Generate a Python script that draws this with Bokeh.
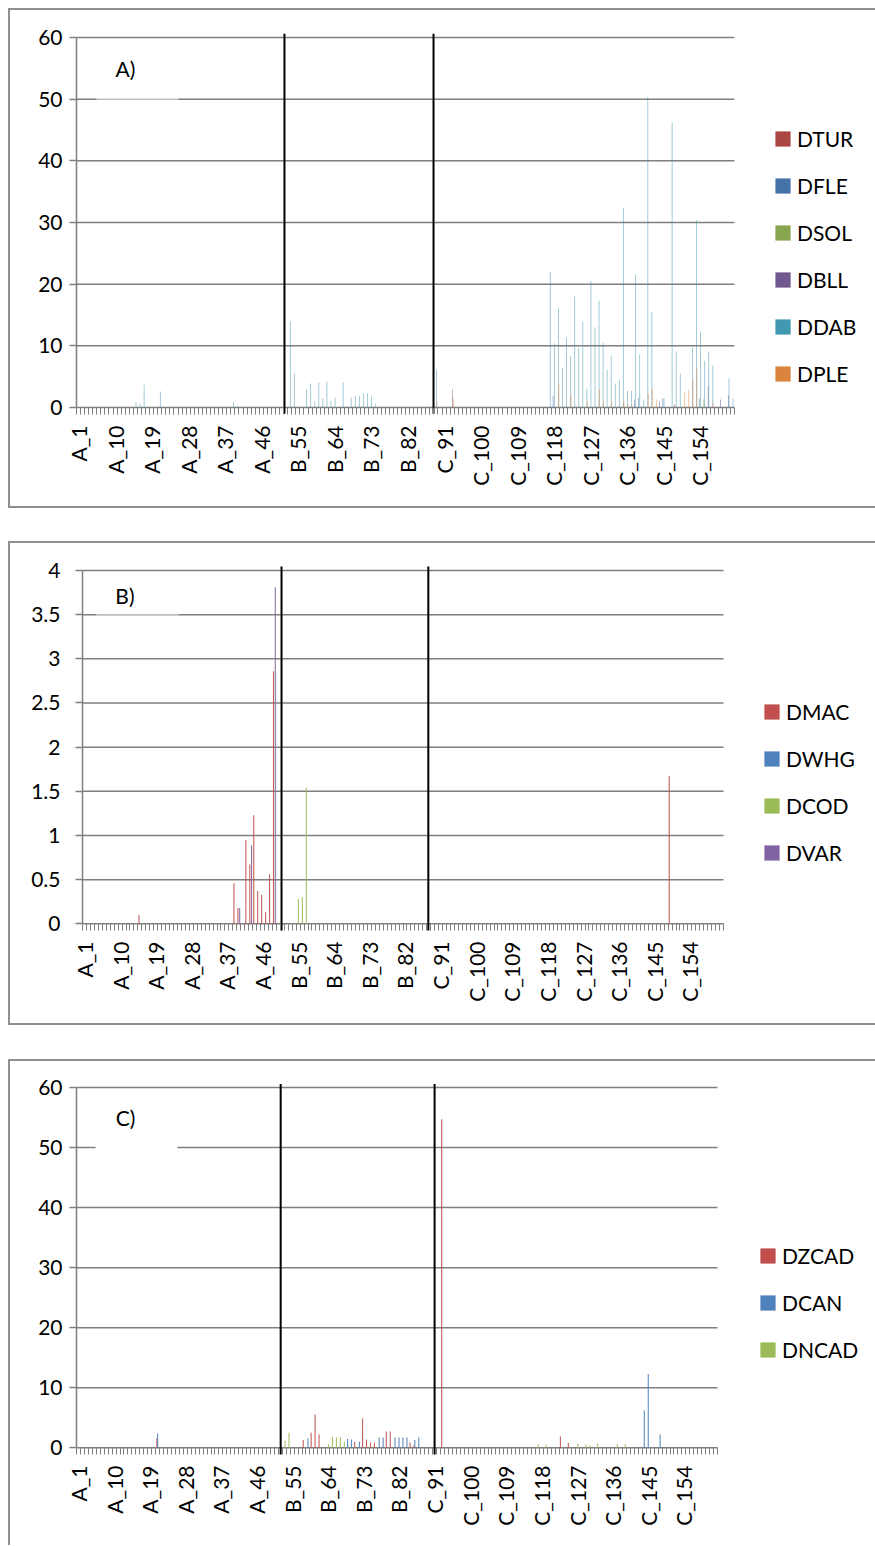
import math
from bokeh.plotting import figure
from bokeh.models import (FixedTicker, Range1d, Legend, LegendItem, Label,
                          BoxAnnotation, Spacer)
from bokeh.layouts import column, row
from bokeh.embed import file_html
from bokeh.resources import INLINE

# ---------------- categories / ticks ----------------
categories = ([f"A_{i}" for i in range(1, 52)] +
              [f"B_{i}" for i in range(52, 90)] +
              [f"C_{i}" for i in range(90, 163)])
tick_cats = [1, 10, 19, 28, 37, 46, 55, 64, 73, 82, 91, 100, 109, 118, 127, 136, 145, 154]

# ---------------- Panel A data (category number, value) ----------------
A_DTUR_cat = [148]
A_DTUR_val = [0.5]
A_DFLE_cat = [118, 138, 139, 145, 154]
A_DFLE_val = [1.9, 1.3, 1.6, 1.5, 1.5]
A_DSOL_cat = [155]
A_DSOL_val = [1.4]
A_DBLL_cat = [93, 144, 156, 159, 161]
A_DBLL_val = [2.9, 1.0, 3.5, 1.3, 2.0]
A_DDAB_cat = [15, 16, 17, 21, 39, 40,
              53, 54, 57, 58, 59, 60, 61, 62, 63, 64, 66, 67, 68, 69, 70, 71, 72, 73, 74, 87, 89,
              117, 118, 119, 120, 121, 122, 123, 124, 125, 126, 127, 128, 129, 130, 131, 132,
              133, 134, 135, 136, 137, 138, 139, 140, 141, 142, 145, 147, 148, 149, 152, 153,
              154, 155, 156, 157, 161, 162]
A_DDAB_val = [0.9, 0.6, 3.7, 2.6, 0.8, 0.3,
              14.0, 5.5, 3.0, 3.9, 1.0, 4.1, 1.4, 4.2, 1.1, 1.6, 4.1, 0.2, 1.6, 1.9, 1.9, 2.3, 2.3, 1.8, 0.6, 0.2, 6.1,
              22.0, 10.4, 16.2, 6.4, 11.3, 8.3, 18.0, 9.6, 13.9, 3.0, 20.5, 13.0, 17.3, 10.5, 6.1, 8.4,
              3.9, 4.4, 32.4, 2.7, 2.7, 21.5, 8.6, 1.3, 50.3, 15.5, 1.5, 46.2, 9.1, 5.5, 9.7, 30.4,
              12.3, 7.6, 9.1, 6.8, 4.7, 1.5]
A_DPLE_cat = [89, 93, 119, 122, 126, 129, 130, 132, 135, 136, 137, 141, 142, 143, 150, 151, 152, 153, 157]
A_DPLE_val = [1.0, 1.5, 3.9, 2.0, 1.0, 2.9, 1.0, 1.0, 1.0, 0.5, 0.5, 2.2, 3.0, 1.3, 2.5, 2.8, 4.7, 6.3, 0.8]

# ---------------- Panel B data ----------------
B_DMAC_cat = [15, 39, 40, 42, 43, 44, 45, 46, 47, 48, 49, 149]
B_DMAC_val = [0.1, 0.46, 0.18, 0.95, 0.67, 1.23, 0.37, 0.33, 0.13, 0.56, 2.86, 1.67]
B_DWHG_cat = []
B_DWHG_val = []
B_DCOD_cat = [55, 56, 57]
B_DCOD_val = [0.28, 0.30, 1.54]
B_DVAR_cat = [40, 43, 49]
B_DVAR_val = [0.18, 0.89, 3.81]

# ---------------- Panel C data ----------------
C_DZCAD_cat = [21, 58, 60, 61, 62, 71, 73, 74, 75, 76, 79, 80, 85, 86, 93, 123, 125]
C_DZCAD_val = [1.6, 1.3, 2.5, 5.55, 2.2, 1.0, 4.9, 1.4, 0.9, 0.9, 2.7, 2.7, 0.9, 0.4, 54.7, 1.9, 0.8]
C_DCAN_cat = [21, 59, 69, 70, 72, 77, 78, 81, 82, 83, 84, 86, 87, 144, 145, 148]
C_DCAN_val = [2.4, 1.6, 1.5, 1.4, 1.0, 1.7, 1.7, 1.7, 1.7, 1.7, 1.7, 1.3, 1.7, 6.2, 12.3, 2.2]
C_DNCAD_cat = [53, 54, 64, 65, 66, 67, 68, 117, 119, 127, 129, 130, 132, 137, 139]
C_DNCAD_val = [1.2, 2.5, 0.6, 1.8, 1.7, 1.8, 1.0, 0.6, 0.5, 0.7, 0.5, 0.4, 0.7, 0.6, 0.6]

COLORS_A = ["#AA4643", "#4572A7", "#89A54E", "#71588F", "#4198AF", "#DB843D"]
COLORS_BC = ["#C0504D", "#4F81BD", "#9BBB59", "#8064A2"]

FONT = "Lato"
FS = "21px"
GRID = "#7F7F7F"
BORDER_BG = {"background-color": "#8F8F8F"}
NCAT = len(categories)
CANVAS_LEFT = 10
W = 865


def full_series(cats, vals):
    out = [0.0] * NCAT
    for c, v in zip(cats, vals):
        out[c - 1] = v
    return out


def make_panel(geo, ymax, yticks, series, colors, step, bar_w, bar_alpha, ylab_standoff,
               tag, tag_xy, sep_lines, line_y, legend_geo, tb_box):
    ctop, H, xleft, xright, y0, ytop = geo
    mb_left = round(xleft - CANVAS_LEFT)
    fl = CANVAS_LEFT + mb_left
    mb_top = round(ytop - 6 - ctop)
    ft = ctop + mb_top
    mb_bottom = round(ctop + H - (y0 + 7))
    fb = ctop + H - mb_bottom
    ppu = (y0 - ytop) / ymax
    y_start = -(fb - y0) / ppu
    y_end = ymax + (ytop - ft) / ppu
    cw = (xright - xleft) / NCAT
    x_start = 0.5 - (xleft - fl) / cw
    x_end = x_start + (CANVAS_LEFT + W - fl) / cw

    p = figure(width=W, height=H, output_backend="svg", toolbar_location=None,
               x_range=Range1d(x_start, x_end), y_range=Range1d(y_start, y_end),
               min_border_left=mb_left, min_border_right=0,
               min_border_top=mb_top, min_border_bottom=mb_bottom)
    p.outline_line_color = None
    p.background_fill_color = "white"
    p.border_fill_color = "white"
    p.xgrid.grid_line_color = None
    p.ygrid.grid_line_color = None

    # horizontal gridlines (incl. the category axis line at 0)
    p.segment(x0=[0.5] * len(yticks), x1=[NCAT + 0.5] * len(yticks), y0=yticks, y1=yticks,
              line_color=GRID, line_width=1.5)

    # x axis (ticks point up from frame bottom to the 0 line)
    xa = p.xaxis[0]
    xa.bounds = (0.5, NCAT + 0.5)
    xa.ticker = FixedTicker(ticks=tick_cats, minor_ticks=[k + 0.5 for k in range(NCAT + 1)])
    xa.major_label_overrides = {t: categories[t - 1] for t in tick_cats}
    xa.major_label_orientation = math.pi / 2
    xa.major_tick_out = 0
    xa.major_tick_in = 0
    xa.minor_tick_out = 0
    xa.minor_tick_in = 7
    xa.minor_tick_line_color = GRID
    xa.axis_line_color = None
    xa.major_label_standoff = 11
    xa.major_label_text_font = FONT
    xa.major_label_text_font_size = FS
    xa.major_label_text_color = "black"

    # y axis
    ya = p.yaxis[0]
    ya.bounds = (0, ymax)
    ya.ticker = FixedTicker(ticks=yticks)
    ya.major_label_overrides = {t: (str(int(t)) if float(t).is_integer() else str(t)) for t in yticks}
    ya.major_tick_out = 7
    ya.major_tick_in = 0
    ya.minor_tick_out = 0
    ya.minor_tick_in = 0
    ya.major_tick_line_color = GRID
    ya.major_tick_line_width = 1.3
    ya.axis_line_color = GRID
    ya.axis_line_width = 1.5
    ya.major_label_standoff = ylab_standoff
    ya.major_label_text_font = FONT
    ya.major_label_text_font_size = FS
    ya.major_label_text_color = "black"

    n = len(series)
    xs = list(range(1, NCAT + 1))
    items = []
    for k, (name, cats, vals) in enumerate(series):
        off = (k - (n - 1) / 2) * step
        p.vbar(x=[x + off for x in xs], top=full_series(cats, vals), width=bar_w,
               fill_color=colors[k], fill_alpha=bar_alpha, line_color=None)
        # legend swatch (full colour, zero-height bar outside the view)
        lr = p.vbar(x=[-1000], top=[0], width=0.22, fill_color=colors[k], line_color=None)
        items.append(LegendItem(label=name, renderers=[lr]))

    sq_left, first_center = legend_geo
    gw = 19
    rowh = 25
    sp = 22
    leg_left = sq_left - 0.1 * gw
    leg_top = first_center - rowh / 2
    leg_h = n * rowh + (n - 1) * sp
    loc = (round(leg_left - fl), round(fb - (leg_top + leg_h)))
    leg = Legend(items=items, location=loc, glyph_width=gw, glyph_height=gw,
                 label_standoff=5, spacing=sp, padding=0, margin=0,
                 border_line_alpha=0, background_fill_alpha=0,
                 label_text_font=FONT, label_text_font_size=FS, label_height=rowh,
                 label_text_color="black")
    p.add_layout(leg)

    # text box of the panel tag (white box partially hiding a gridline)
    p.add_layout(BoxAnnotation(left=tb_box[0], right=tb_box[1], bottom=tb_box[2], top=tb_box[3],
                               fill_color="white", fill_alpha=tb_box[4], line_color=None))
    p.add_layout(Label(x=tag_xy[0], y=tag_xy[1], text=tag, text_font=FONT,
                       text_font_size=FS, text_baseline="middle", text_color="black"))

    # hand-drawn separators between groups A | B | C
    p.segment(x0=sep_lines, x1=sep_lines, y0=[line_y[0]] * len(sep_lines),
              y1=[line_y[1]] * len(sep_lines), line_color="black", line_width=2)
    return p


def boxed(fig, h, gap_above, bottom_border=True):
    """Chart-area frame drawn with grey 2px spacers (top, left, bottom)."""
    hline = lambda: Spacer(width=W + 2, height=2, styles=BORDER_BG)
    parts = [Spacer(height=gap_above), row(Spacer(width=8), hline()),
             row(Spacer(width=8), Spacer(width=2, height=h, styles=BORDER_BG), fig)]
    if bottom_border:
        parts.append(row(Spacer(width=8), hline()))
    return column(*parts)


HA, HB, HC = 496, 480, 484
pA = make_panel((10, HA, 76, 734, 407, 37), 60, [0, 10, 20, 30, 40, 50, 60],
                [("DTUR", A_DTUR_cat, A_DTUR_val), ("DFLE", A_DFLE_cat, A_DFLE_val),
                 ("DSOL", A_DSOL_cat, A_DSOL_val), ("DBLL", A_DBLL_cat, A_DBLL_val),
                 ("DDAB", A_DDAB_cat, A_DDAB_val), ("DPLE", A_DPLE_cat, A_DPLE_val)],
                COLORS_A, 0.1, 0.22, 0.55, 7, "A)", (10.1, 54.9), [51.7, 88.4], (-1.0, 60.6),
                (775, 139), (5.4, 25.6, 49.7, 50.3, 0.5))

pB = make_panel((543, HB, 82, 723, 923.3, 570), 4, [0, 0.5, 1, 1.5, 2, 2.5, 3, 3.5, 4],
                [("DMAC", B_DMAC_cat, B_DMAC_val), ("DWHG", B_DWHG_cat, B_DWHG_val),
                 ("DCOD", B_DCOD_cat, B_DCOD_val), ("DVAR", B_DVAR_cat, B_DVAR_val)],
                COLORS_BC, 0.15, 0.28, 0.9, 15, "B)", (8.8, 3.72), [50.8, 87.9], (-0.12, 4.045),
                (764, 711.7), (4.0, 24.8, 3.49, 3.51, 0.5))

pC = make_panel((1061, HC, 76, 717, 1447.3, 1087), 60, [0, 10, 20, 30, 40, 50, 60],
                [("DZCAD", C_DZCAD_cat, C_DZCAD_val), ("DCAN", C_DCAN_cat, C_DCAN_val),
                 ("DNCAD", C_DNCAD_cat, C_DNCAD_val)],
                COLORS_BC, 0.2, 0.28, 0.9, 7, "C)", (10.4, 54.96), [52.1, 91.0], (-1.3, 60.6),
                (760, 1256), (5.3, 26.0, 49.7, 50.3, 1.0))

rootA = boxed(pA, HA, 8)
rootB = boxed(pB, HB, 33)
rootC = boxed(pC, HC, 34, bottom_border=False)
open("out.html", "w").write(file_html([rootA, rootB, rootC], INLINE))
